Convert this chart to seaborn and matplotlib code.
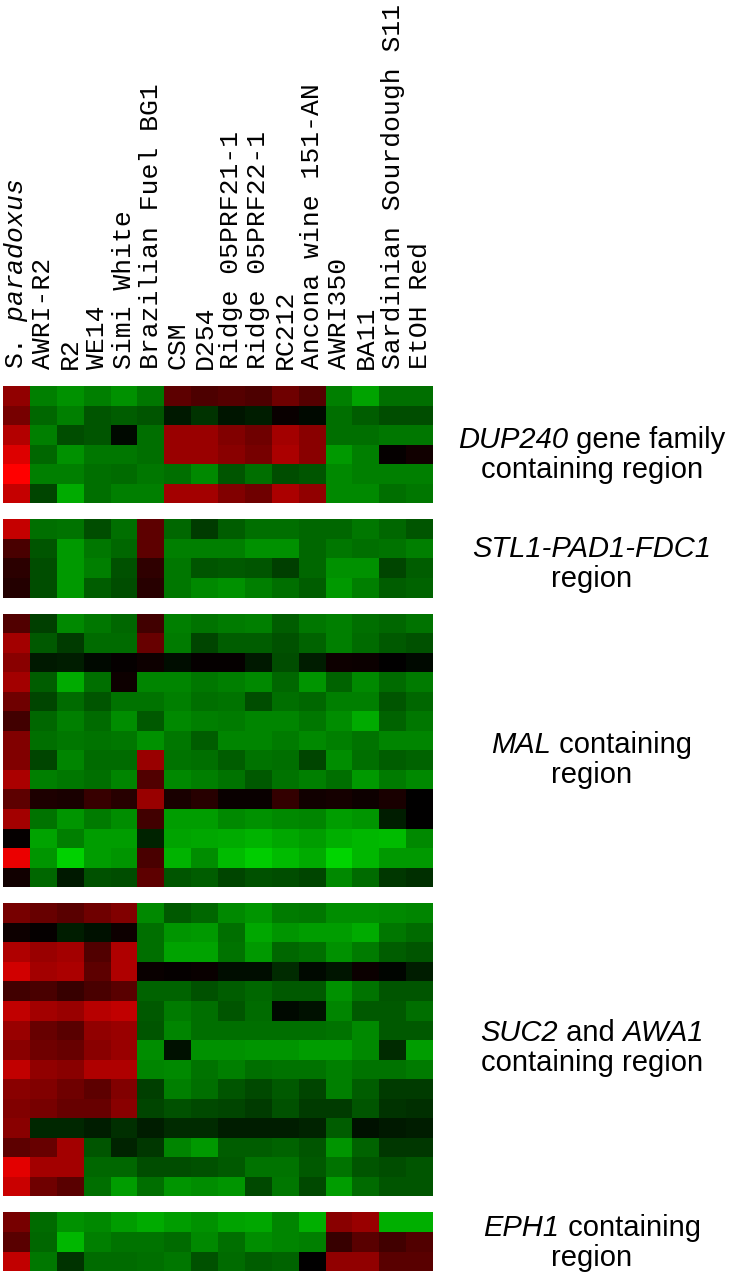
import matplotlib
matplotlib.use("Agg")
import matplotlib.pyplot as plt
from matplotlib.colors import LinearSegmentedColormap
from matplotlib.offsetbox import TextArea, HPacker, VPacker, AnnotationBbox
import pandas as pd
import seaborn as sns

# column labels (strains)
strains = ["S. $paradoxus$", "AWRI-R2", "R2", "WE14", "Simi White",
           "Brazilian Fuel BG1", "CSM", "D254", "Ridge 05PRF21-1",
           "Ridge 05PRF22-1", "RC212", "Ancona wine 151-AN", "AWRI350",
           "BA11", "Sardinian Sourdough S11", "EtOH Red"]

# log ratios, one list per region (rows top to bottom)
dup240 = [
    [1.7, -1.5, -1.7, -1.5, -1.7, -1.4, 1.1, 0.9, 1.0, 0.9, 1.3, 1.0, -1.5, -1.9, -1.3, -1.3],
    [1.4, -1.2, -1.5, -1.0, -1.1, -1.0, -0.3, -0.6, -0.25, -0.35, 0.1, -0.1, -1.3, -1.1, -0.9, -0.9],
    [2.1, -1.5, -0.9, -1.0, -0.1, -1.3, 1.8, 1.8, 1.5, 1.3, 1.9, 1.6, -1.3, -1.3, -1.4, -1.4],
    [2.6, -1.2, -1.7, -1.4, -1.4, -1.3, 1.8, 1.8, 1.6, 1.4, 2.0, 1.6, -1.8, -1.5, 0.05, 0.2],
    [3.0, -1.5, -1.5, -1.3, -1.25, -1.4, -1.3, -1.6, -1.0, -1.3, -0.9, -1.0, -1.6, -1.5, -1.5, -1.5],
    [2.3, -0.8, -2.0, -1.3, -1.5, -1.5, 1.9, 1.9, 1.5, 1.3, 2.0, 1.7, -1.6, -1.6, -1.3, -1.4],
]
stl1 = [
    [2.3, -1.3, -1.35, -0.9, -1.3, 1.1, -1.2, -0.7, -1.1, -1.3, -1.3, -1.2, -1.2, -1.4, -1.2, -1.0],
    [0.85, -1.0, -1.8, -1.4, -1.2, 1.1, -1.5, -1.5, -1.5, -1.7, -1.7, -1.2, -1.4, -1.3, -1.35, -1.5],
    [0.5, -0.9, -1.8, -1.5, -0.95, 0.55, -1.4, -1.0, -1.05, -1.0, -0.75, -1.2, -1.7, -1.7, -0.8, -1.1],
    [0.4, -0.9, -1.8, -1.1, -0.9, 0.45, -1.4, -1.6, -1.7, -1.5, -1.3, -1.1, -1.8, -1.5, -1.1, -1.15],
]
mal = [
    [0.95, -0.75, -1.6, -1.4, -1.2, 0.75, -1.5, -1.35, -1.45, -1.5, -1.1, -1.4, -1.5, -1.3, -1.2, -1.35],
    [1.9, -1.05, -0.7, -1.25, -1.25, 1.2, -1.45, -0.8, -1.1, -1.1, -0.95, -1.15, -1.5, -1.25, -1.05, -0.95],
    [1.6, -0.3, -0.35, -0.1, 0.05, 0.15, -0.15, 0.05, 0.05, -0.3, -0.9, -0.35, 0.15, 0.12, 0.0, -0.1],
    [1.9, -1.1, -2.0, -1.3, 0.15, -1.55, -1.55, -1.4, -1.5, -1.6, -1.2, -1.75, -1.15, -1.6, -1.25, -1.45],
    [1.3, -0.8, -1.25, -1.0, -1.35, -1.35, -1.5, -1.3, -1.35, -0.9, -1.3, -1.2, -1.5, -1.5, -1.0, -1.2],
    [0.75, -1.2, -1.5, -1.25, -1.65, -1.05, -1.6, -1.5, -1.45, -1.55, -1.55, -1.4, -1.65, -2.0, -1.15, -1.4],
    [1.5, -1.3, -1.4, -1.35, -1.4, -1.7, -1.4, -1.1, -1.55, -1.55, -1.45, -1.6, -1.5, -1.35, -1.55, -1.55],
    [1.5, -0.8, -1.55, -1.25, -1.25, 1.8, -1.35, -1.3, -1.1, -1.35, -1.3, -0.8, -1.65, -1.3, -1.1, -1.15],
    [2.0, -1.5, -1.4, -1.3, -1.55, 0.95, -1.6, -1.5, -1.35, -1.05, -1.35, -1.5, -1.3, -1.8, -1.45, -1.6],
    [1.1, 0.35, 0.3, 0.65, 0.45, 1.8, 0.3, 0.45, 0.1, 0.1, 0.6, 0.2, 0.25, 0.15, 0.3, 0.0],
    [1.9, -1.35, -1.75, -1.45, -1.65, 0.75, -1.85, -1.85, -1.6, -1.7, -1.6, -1.55, -1.85, -1.75, -0.35, 0.0],
    [0.05, -1.9, -1.5, -1.85, -1.85, -0.4, -1.9, -1.95, -2.0, -2.1, -1.95, -1.85, -2.05, -2.15, -2.2, -1.6],
    [2.75, -1.75, -2.45, -1.85, -1.75, 0.85, -2.1, -1.65, -2.2, -2.4, -2.2, -2.0, -2.5, -2.15, -1.8, -1.8],
    [0.2, -1.2, -0.3, -0.95, -0.9, 1.1, -1.0, -1.1, -0.8, -0.95, -0.9, -0.8, -1.6, -1.25, -0.65, -0.55],
]
suc2 = [
    [1.4, 1.2, 1.05, 1.3, 1.5, -1.6, -1.05, -1.2, -1.6, -1.75, -1.45, -1.4, -1.65, -1.65, -1.6, -1.55],
    [0.15, 0.05, -0.35, -0.2, 0.15, -1.3, -1.75, -1.8, -1.3, -1.95, -1.75, -1.85, -1.85, -2.0, -1.4, -1.25],
    [2.05, 1.8, 1.9, 0.95, 2.05, -1.3, -1.9, -1.9, -1.35, -1.8, -1.2, -1.3, -1.7, -1.45, -1.1, -1.0],
    [2.45, 1.9, 2.0, 1.1, 2.05, 0.1, 0.05, 0.1, -0.15, -0.15, -0.5, -0.1, -0.25, 0.12, -0.05, -0.35],
    [0.75, 0.85, 0.65, 0.85, 1.05, -1.15, -1.15, -0.95, -1.1, -1.2, -1.05, -1.05, -1.7, -1.35, -1.0, -1.0],
    [2.25, 1.9, 1.8, 2.15, 2.25, -1.05, -1.45, -1.3, -1.0, -1.25, -0.1, -0.2, -1.55, -1.05, -1.05, -1.3],
    [1.8, 1.2, 1.05, 1.7, 1.8, -1.0, -1.55, -1.3, -1.3, -1.3, -1.3, -1.3, -1.35, -1.6, -1.05, -1.05],
    [1.6, 1.3, 1.2, 1.6, 1.8, -1.65, -0.2, -1.7, -1.7, -1.75, -1.75, -1.85, -1.85, -1.6, -0.5, -1.85],
    [2.25, 1.7, 1.6, 2.05, 2.05, -1.55, -1.6, -1.35, -1.5, -1.3, -1.35, -1.35, -1.5, -1.35, -1.35, -1.45],
    [1.6, 1.5, 1.3, 1.1, 1.5, -0.75, -1.5, -1.3, -1.0, -0.85, -1.05, -0.8, -1.5, -1.1, -0.7, -0.7],
    [1.5, 1.4, 1.2, 1.2, 1.6, -0.8, -0.95, -0.85, -0.8, -0.7, -0.95, -0.7, -0.7, -1.0, -0.6, -0.55],
    [1.6, -0.45, -0.45, -0.35, -0.55, -0.35, -0.5, -0.5, -0.35, -0.35, -0.35, -0.4, -1.1, -0.2, -0.3, -0.35],
    [1.1, 1.2, 1.9, -1.0, -0.4, -0.65, -1.55, -1.8, -1.1, -1.1, -1.15, -1.0, -1.75, -1.15, -0.65, -0.65],
    [2.65, 1.9, 1.9, -1.2, -1.2, -0.9, -0.9, -0.95, -1.05, -1.35, -1.35, -1.05, -1.35, -1.0, -0.9, -1.0],
    [2.35, 1.3, 1.05, -1.3, -1.85, -1.3, -1.75, -1.65, -1.75, -0.85, -1.4, -0.85, -1.85, -1.25, -1.0, -1.0],
]
eph1 = [
    [1.4, -1.25, -1.7, -1.6, -1.85, -2.0, -1.85, -1.7, -1.9, -1.95, -1.55, -2.05, 1.6, 1.8, -2.05, -2.05],
    [1.05, -1.2, -2.15, -1.5, -1.35, -1.35, -1.25, -1.6, -1.3, -1.65, -1.55, -1.5, 0.65, 1.05, 0.75, 0.95],
    [2.25, -1.4, -0.6, -1.25, -1.25, -1.3, -1.4, -0.95, -1.25, -1.1, -1.15, 0.0, 1.7, 1.7, 1.05, 1.05],
]

blocks = [dup240, stl1, mal, suc2, eph1]

# region captions: list of lines, each line a list of (text, italic) pieces
captions = [
    [[("DUP240", True), (" gene family", False)], [("containing region", False)]],
    [[("STL1-PAD1-FDC1", True)], [("region", False)]],
    [[("MAL", True), (" containing", False)], [("region", False)]],
    [[("SUC2", True), (" and ", False), ("AWA1", True)], [("containing region", False)]],
    [[("EPH1", True), (" containing", False)], [("region", False)]],
]
caption_y = [455, 564, 760, 1048, 1243]

plt.rcParams['mathtext.fontset'] = 'custom'
plt.rcParams['mathtext.it'] = 'Liberation Mono:italic'
plt.rcParams['mathtext.rm'] = 'Liberation Mono'

# green - black - red microarray palette
cmap = LinearSegmentedColormap.from_list('rg', ['#00ff00', '#000000', '#ff0000'])

W, H = 730, 1280
fig = plt.figure(figsize=(7.3, 12.8), dpi=100)

row_h = 19.55
gap = 16
top = 386
left, width = 3, 430

for i, block in enumerate(blocks):
    df = pd.DataFrame(block, columns=strains)
    h = row_h * len(block)
    ax = fig.add_axes([left / W, (H - top - h) / H, width / W, h / H])
    sns.heatmap(df, ax=ax, cmap=cmap, vmin=-3, vmax=3, cbar=False,
                xticklabels=strains if i == 0 else False, yticklabels=False)
    if i == 0:
        ax.xaxis.tick_top()
        ax.tick_params(axis='x', length=0, pad=12)
        for lab in ax.get_xticklabels():
            lab.set_rotation(90)
            lab.set_fontfamily('Liberation Mono')
            lab.set_fontsize(19)
            lab.set_ha('center')
            lab.set_va('bottom')
    ax.set_xlabel('')
    ax.set_ylabel('')

    # caption to the right of the block
    lines = []
    for line in captions[i]:
        parts = [TextArea(t, textprops=dict(fontsize=21, family='Liberation Sans',
                                            style='italic' if it else 'normal'))
                 for t, it in line]
        lines.append(HPacker(children=parts, align='baseline', pad=0, sep=0))
    box = VPacker(children=lines, align='center', pad=0, sep=2)
    ab = AnnotationBbox(box, (592, H - caption_y[i]), xycoords='figure pixels',
                        box_alignment=(0.5, 0.5), frameon=False)
    fig.add_artist(ab)

    top += h + gap

fig.savefig('out.png', dpi=100)
